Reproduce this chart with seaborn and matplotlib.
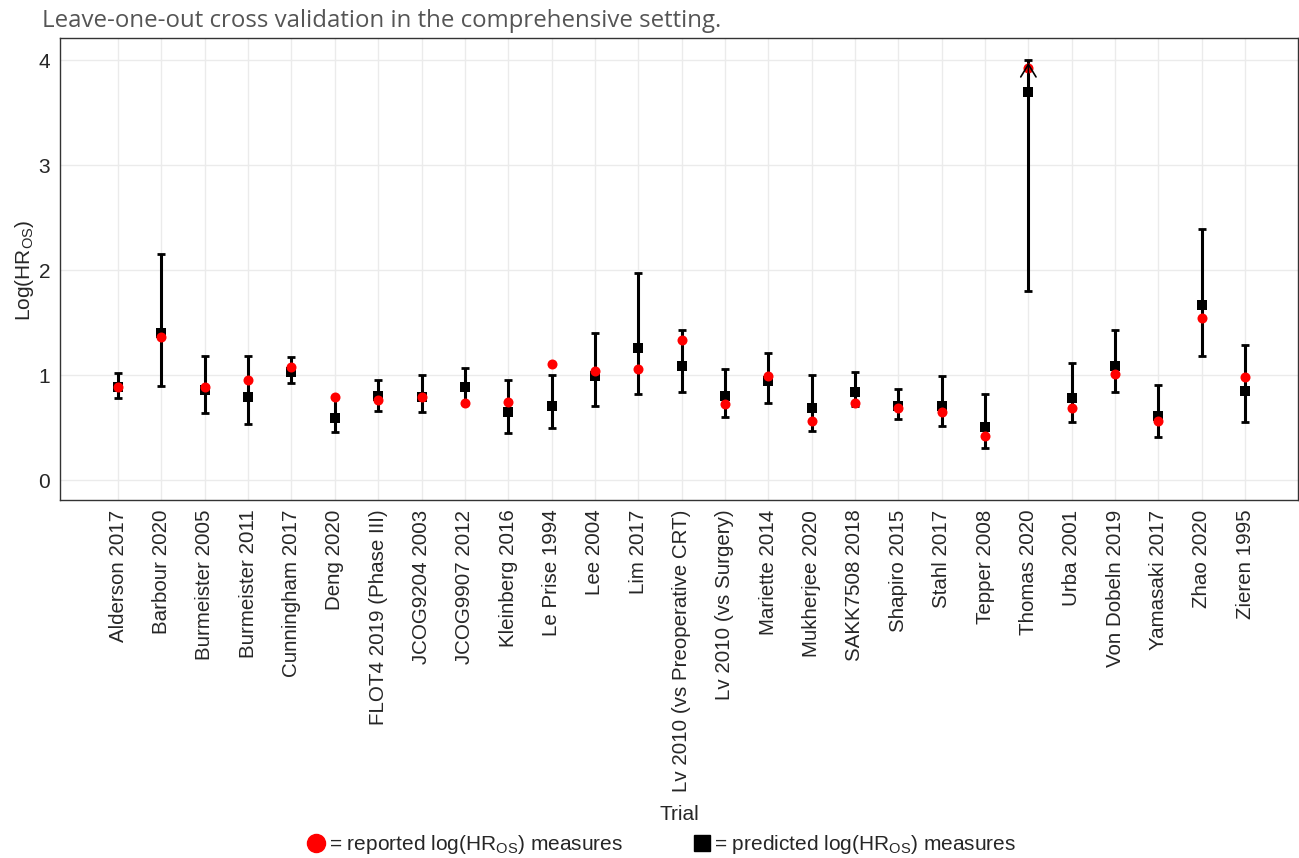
import numpy as np
import pandas as pd
import matplotlib
matplotlib.use("Agg")
import matplotlib.pyplot as plt
from matplotlib.lines import Line2D
import seaborn as sns

trials = [
    "Alderson 2017", "Barbour 2020", "Burmeister 2005", "Burmeister 2011",
    "Cunningham 2017", "Deng 2020", "FLOT4 2019 (Phase III)", "JCOG9204 2003",
    "JCOG9907 2012", "Kleinberg 2016", "Le Prise 1994", "Lee 2004", "Lim 2017",
    "Lv 2010 (vs Preoperative CRT)", "Lv 2010 (vs Surgery)", "Mariette 2014",
    "Mukherjee 2020", "SAKK7508 2018", "Shapiro 2015", "Stahl 2017",
    "Tepper 2008", "Thomas 2020", "Urba 2001", "Von Dobeln 2019",
    "Yamasaki 2017", "Zhao 2020", "Zieren 1995",
]
reported = [0.89, 1.365, 0.89, 0.95, 1.08, 0.79, 0.76, 0.79, 0.73, 0.74,
            1.11, 1.04, 1.06, 1.33, 0.72, 0.99, 0.56, 0.73, 0.69, 0.65,
            0.42, 3.92, 0.69, 1.01, 0.56, 1.54, 0.98]
predicted = [0.89, 1.40, 0.86, 0.79, 1.03, 0.59, 0.80, 0.79, 0.89, 0.65,
             0.71, 0.99, 1.26, 1.09, 0.80, 0.94, 0.69, 0.84, 0.71, 0.71,
             0.51, 3.70, 0.78, 1.09, 0.61, 1.67, 0.85]
lower = [0.78, 0.90, 0.635, 0.535, 0.92, 0.455, 0.66, 0.645, 0.72, 0.445,
         0.50, 0.705, 0.815, 0.835, 0.60, 0.735, 0.47, 0.71, 0.58, 0.515,
         0.31, 1.80, 0.555, 0.84, 0.41, 1.18, 0.555]
upper = [1.015, 2.15, 1.18, 1.18, 1.17, 0.79, 0.955, 1.005, 1.07, 0.955,
         1.00, 1.40, 1.975, 1.43, 1.055, 1.21, 1.00, 1.03, 0.865, 0.99,
         0.82, 4.0, 1.115, 1.43, 0.91, 2.39, 1.285]
# upper bounds cut at the axis limit (drawn with an arrow)
clipped = ["Thomas 2020"]

df = pd.DataFrame({"Trial": trials, "reported": reported, "predicted": predicted,
                   "lower": lower, "upper": upper})

sns.set_style("white")
plt.rcParams["font.family"] = ["Liberation Sans", "DejaVu Sans"]
plt.rcParams["mathtext.fontset"] = "custom"
plt.rcParams["mathtext.rm"] = "Liberation Sans"
plt.rcParams["mathtext.it"] = "Liberation Sans"

fig = plt.figure(figsize=(12.99, 8.58), dpi=100)
ax = fig.add_axes([60 / 1299, 1 - 500 / 858, 1238 / 1299, 462 / 858])

xpos = np.arange(len(trials))
ax.errorbar(xpos, df["predicted"],
            yerr=[df["predicted"] - df["lower"], df["upper"] - df["predicted"]],
            fmt="none", ecolor="black", elinewidth=2.2, capsize=3, capthick=2, zorder=2)
sns.scatterplot(data=df, x="Trial", y="predicted", marker="s", color="black",
                s=55, edgecolor="black", linewidth=0, ax=ax, zorder=3)
sns.scatterplot(data=df, x="Trial", y="reported", marker="o", color="red",
                s=52, edgecolor="red", linewidth=0, ax=ax, zorder=4)

for name in clipped:
    i = trials.index(name)
    ax.annotate("", xy=(i, df["upper"][i]), xytext=(i, df["upper"][i] - 0.3),
                arrowprops=dict(arrowstyle="->,head_length=0.9,head_width=0.55",
                                color="black", lw=1.2), zorder=5)

ax.set_xlim(-1.34, 27.22)
ax.set_ylim(-0.19, 4.21)
ax.set_xticks(xpos)
ax.set_xticklabels(trials, rotation=90, fontsize=14.8)
ax.set_yticks([0, 1, 2, 3, 4])
ax.tick_params(axis="y", labelsize=15)
ax.tick_params(axis="both", length=4, color="#333333", direction="out", pad=3)
ax.grid(True, color="#ebebeb", linewidth=1)
ax.set_axisbelow(True)
for sp in ax.spines.values():
    sp.set_color("#333333")
    sp.set_linewidth(1)

ax.set_xlabel("Trial", fontsize=15)
ax.xaxis.set_label_coords(679 / 1299, 1 - 805 / 858, transform=fig.transFigure)
ax.set_ylabel("Log(HR$_{\\rm OS}$)", fontsize=15)
ax.yaxis.set_label_coords(36 / 1299, 1 - 270 / 858, transform=fig.transFigure)

fig.text(42 / 1299, 1 - 21 / 858, "Leave-one-out cross validation in the comprehensive setting.",
         fontsize=17.3, color="#555555", va="center", ha="left", family="Open Sans")

handles = [
    Line2D([], [], marker="o", color="red", linestyle="none", markersize=13),
    Line2D([], [], marker="s", color="black", linestyle="none", markersize=12),
]
labels = ["= reported log(HR$_{\\rm OS}$) measures", "= predicted log(HR$_{\\rm OS}$) measures"]
fig.legend(handles, labels, loc="center", bbox_to_anchor=(660 / 1299, 1 - 845 / 858),
           ncol=2, frameon=False, fontsize=15, handletextpad=0.0, columnspacing=3.2,
           handlelength=1.2)

fig.savefig("out.png", dpi=100)
